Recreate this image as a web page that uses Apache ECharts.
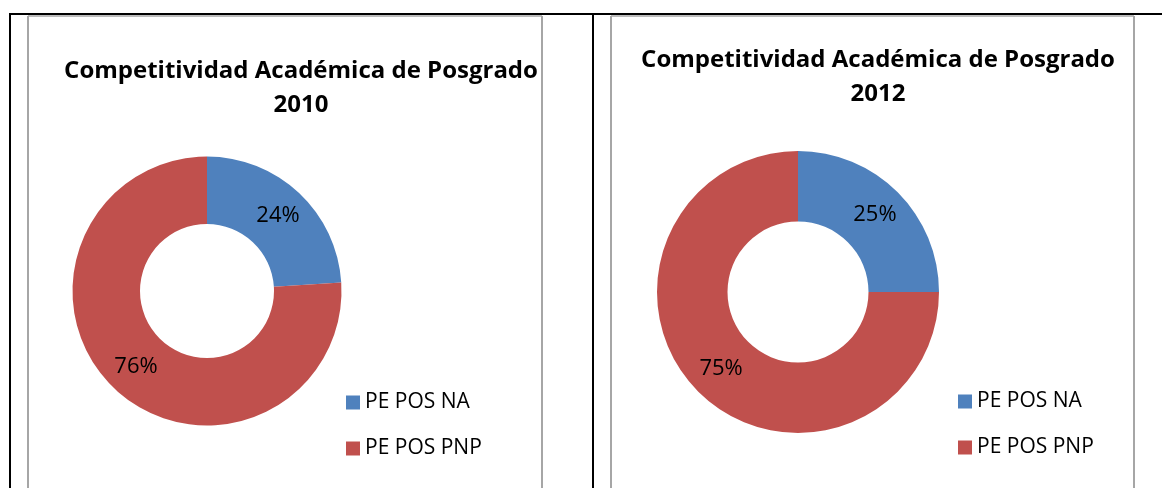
<!DOCTYPE html>
<html lang="es">
<head>
    <meta charset="UTF-8">
    <title>Competitividad Académica de Posgrado</title>
    <script src="https://cdn.jsdelivr.net/npm/echarts@6/dist/echarts.min.js"></script>
    <style>
        html, body { margin: 0; padding: 0; background: #fff; }
        #main { width: 1162px; height: 488px; }
    </style>
</head>
<body>
<div id="main"></div>
<script>
    // datos
    var categorias = ['PE POS NA', 'PE POS PNP'];
    var valores2010 = [24, 76];
    var valores2012 = [25, 75];
    var titulos = ['Competitividad Académica de Posgrado\n2010', 'Competitividad Académica de Posgrado\n2012'];
    var colores = ['#4f81bd', '#c0504d'];

    var fuente = 'Open Sans';
    var chart = echarts.init(document.getElementById('main'));

    function datosPie(valores) {
        return categorias.map(function (c, i) {
            return {name: c, value: valores[i]};
        });
    }

    function serie(valores, centro, radio) {
        return {
            type: 'pie',
            center: centro,
            radius: radio,
            startAngle: 90,
            clockwise: true,
            silent: true,
            data: datosPie(valores),
            label: {
                show: true,
                position: 'inside',
                formatter: '{d}%',
                color: '#000',
                fontFamily: fuente,
                fontSize: 22
            },
            labelLine: {show: false},
            itemStyle: {borderWidth: 0}
        };
    }

    // lineas de la tabla y marcos de cada grafica
    var linea = function (x1, y1, x2, y2, color, ancho) {
        return {
            type: 'line', silent: true,
            shape: {x1: x1, y1: y1, x2: x2, y2: y2},
            style: {stroke: color, lineWidth: ancho}
        };
    };

    var estiloTitulo = {fontFamily: fuente, fontWeight: 'bold', fontSize: 24, lineHeight: 34, color: '#000'};
    var estiloLeyenda = {fontFamily: fuente, fontSize: 21, lineHeight: 20, color: '#000'};

    var option = {
        backgroundColor: '#fff',
        color: colores,
        animation: false,
        title: [{
            text: titulos[0],
            left: 296,
            top: 49,
            textAlign: 'center',
            textStyle: estiloTitulo
        }, {
            text: titulos[1],
            left: 873,
            top: 38,
            textAlign: 'center',
            textStyle: estiloTitulo
        }],
        legend: [{
            data: categorias,
            orient: 'vertical',
            left: 341,
            top: 387,
            icon: 'rect',
            itemWidth: 14,
            itemHeight: 14,
            itemGap: 25,
            itemStyle: {borderWidth: 0},
            selectedMode: false,
            textStyle: estiloLeyenda
        }, {
            data: categorias,
            orient: 'vertical',
            left: 953,
            top: 386,
            icon: 'rect',
            itemWidth: 14,
            itemHeight: 14,
            itemGap: 25,
            itemStyle: {borderWidth: 0},
            selectedMode: false,
            textStyle: estiloLeyenda
        }],
        graphic: [
            linea(9, 14, 1162, 14, '#000', 2),
            linea(10, 14, 10, 488, '#000', 2),
            linea(593, 14, 593, 488, '#000', 2),
            linea(28, 16, 542, 16, '#a6a6a6', 1.5),
            linea(28, 16, 28, 488, '#a6a6a6', 2),
            linea(542, 16, 542, 488, '#a6a6a6', 2),
            linea(611, 16, 1134, 16, '#a6a6a6', 1.5),
            linea(611, 16, 611, 488, '#a6a6a6', 2),
            linea(1134, 16, 1134, 488, '#a6a6a6', 2)
        ],
        series: [
            serie(valores2010, [207, 291], [67, 134.5]),
            serie(valores2012, [798, 292], [70.5, 141])
        ]
    };
    chart.setOption(option);
</script>
</body>
</html>
